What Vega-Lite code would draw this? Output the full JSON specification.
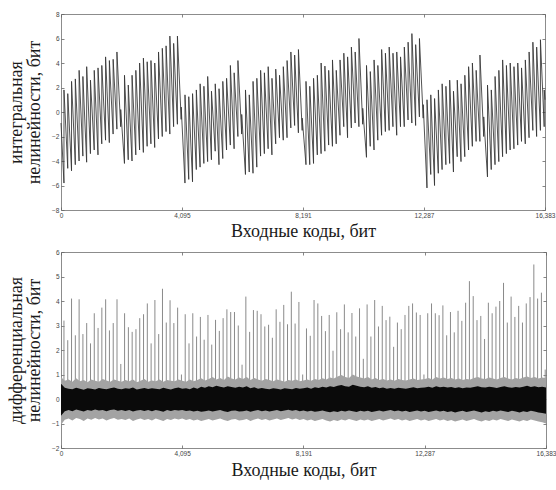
{
"$schema":"https://vega.github.io/schema/vega-lite/v6.json",
"padding":{"left":7,"top":10,"right":4,"bottom":4},
"background":"white",
"spacing":7,
"config":{
"view":{"stroke":"#8c8c8c","strokeWidth":1},
"axis":{"grid":false,"domain":false,"tickSize":-3,"tickColor":"#666","tickWidth":0.8,"labelFont":"Liberation Sans","labelFontSize":6.5,"labelColor":"#444","labelPadding":5,"titleFont":"Liberation Serif","titleFontSize":18,"titleFontWeight":"normal","titleColor":"#1a1a1a","titleLineHeight":18}
},
"datasets":{
"inl":[
{"code":0,"inl":-0.9},
{"code":100,"inl":-5.8},{"code":101,"inl":1.8},{"code":228,"inl":-4.6},{"code":229,"inl":1.5},{"code":356,"inl":-4.8},{"code":357,"inl":2.5},{"code":484,"inl":-4.3},{"code":485,"inl":2.7},{"code":612,"inl":-4.0},{"code":613,"inl":3.4},{"code":740,"inl":-3.6},{"code":741,"inl":2.9},{"code":868,"inl":-4.1},{"code":869,"inl":3.7},{"code":996,"inl":-3.4},{"code":997,"inl":2.6},{"code":1124,"inl":-3.1},{"code":1125,"inl":3.4},{"code":1252,"inl":-3.5},{"code":1253,"inl":3.6},{"code":1380,"inl":-2.6},{"code":1381,"inl":3.8},{"code":1508,"inl":-2.3},{"code":1509,"inl":4.5},{"code":1636,"inl":-2.5},{"code":1637,"inl":4.2},{"code":1764,"inl":-1.8},{"code":1765,"inl":4.3},{"code":1892,"inl":-1.4},{"code":1893,"inl":4.9},{"code":2020,"inl":-1.2},{"code":2021,"inl":0.2},
{"code":2148,"inl":-4.2},{"code":2149,"inl":3.0},{"code":2276,"inl":-3.9},{"code":2277,"inl":2.2},{"code":2404,"inl":-4.0},{"code":2405,"inl":3.0},{"code":2532,"inl":-3.5},{"code":2533,"inl":3.4},{"code":2660,"inl":-3.1},{"code":2661,"inl":4.0},{"code":2788,"inl":-3.3},{"code":2789,"inl":4.4},{"code":2916,"inl":-2.8},{"code":2917,"inl":4.1},{"code":3044,"inl":-2.6},{"code":3045,"inl":4.2},{"code":3172,"inl":-2.9},{"code":3173,"inl":4.0},{"code":3300,"inl":-2.2},{"code":3301,"inl":4.9},{"code":3428,"inl":-2.0},{"code":3429,"inl":5.2},{"code":3556,"inl":-1.6},{"code":3557,"inl":5.4},{"code":3684,"inl":-1.8},{"code":3685,"inl":6.2},{"code":3812,"inl":-1.2},{"code":3813,"inl":5.6},{"code":3940,"inl":-1.0},{"code":3941,"inl":6.2},{"code":4068,"inl":-0.6},{"code":4069,"inl":0.4},
{"code":4196,"inl":-5.8},{"code":4197,"inl":1.4},{"code":4324,"inl":-5.5},{"code":4325,"inl":1.25},{"code":4452,"inl":-5.7},{"code":4453,"inl":1.5},{"code":4580,"inl":-4.7},{"code":4581,"inl":1.8},{"code":4708,"inl":-4.5},{"code":4709,"inl":2.3},{"code":4836,"inl":-4.2},{"code":4837,"inl":2.1},{"code":4964,"inl":-4.05},{"code":4965,"inl":2.9},{"code":5092,"inl":-3.9},{"code":5093,"inl":1.7},{"code":5220,"inl":-3.2},{"code":5221,"inl":2.3},{"code":5348,"inl":-4.3},{"code":5349,"inl":1.9},{"code":5476,"inl":-3.8},{"code":5477,"inl":2.5},{"code":5604,"inl":-3.1},{"code":5605,"inl":2.75},{"code":5732,"inl":-2.7},{"code":5733,"inl":3.8},{"code":5860,"inl":-3.0},{"code":5861,"inl":3.2},{"code":5988,"inl":-2.0},{"code":5989,"inl":4.2},{"code":6116,"inl":-1.8},{"code":6117,"inl":-0.2},
{"code":6244,"inl":-5.1},{"code":6245,"inl":1.8},{"code":6372,"inl":-4.9},{"code":6373,"inl":1.4},{"code":6500,"inl":-5.0},{"code":6501,"inl":2.5},{"code":6628,"inl":-4.5},{"code":6629,"inl":2.75},{"code":6756,"inl":-3.6},{"code":6757,"inl":3.4},{"code":6884,"inl":-3.4},{"code":6885,"inl":3.2},{"code":7012,"inl":-3.0},{"code":7013,"inl":3.7},{"code":7140,"inl":-3.5},{"code":7141,"inl":2.75},{"code":7268,"inl":-2.6},{"code":7269,"inl":3.5},{"code":7396,"inl":-2.1},{"code":7397,"inl":3.0},{"code":7524,"inl":-2.3},{"code":7525,"inl":3.7},{"code":7652,"inl":-2.1},{"code":7653,"inl":4.2},{"code":7780,"inl":-1.3},{"code":7781,"inl":4.9},{"code":7908,"inl":-1.1},{"code":7909,"inl":4.65},{"code":8036,"inl":-1.7},{"code":8037,"inl":5.1},{"code":8164,"inl":-1.5},{"code":8165,"inl":-0.5},
{"code":8292,"inl":-4.3},{"code":8293,"inl":2.5},{"code":8420,"inl":-4.3},{"code":8421,"inl":2.1},{"code":8548,"inl":-4.2},{"code":8549,"inl":2.75},{"code":8676,"inl":-3.5},{"code":8677,"inl":3.0},{"code":8804,"inl":-3.4},{"code":8805,"inl":4.0},{"code":8932,"inl":-3.2},{"code":8933,"inl":3.75},{"code":9060,"inl":-2.7},{"code":9061,"inl":3.4},{"code":9188,"inl":-2.8},{"code":9189,"inl":4.25},{"code":9316,"inl":-2.6},{"code":9317,"inl":3.4},{"code":9444,"inl":-1.9},{"code":9445,"inl":4.25},{"code":9572,"inl":-1.2},{"code":9573,"inl":4.8},{"code":9700,"inl":-2.1},{"code":9701,"inl":4.5},{"code":9828,"inl":-1.3},{"code":9829,"inl":5.3},{"code":9956,"inl":-0.9},{"code":9957,"inl":4.9},{"code":10084,"inl":-1.2},{"code":10085,"inl":6.0},{"code":10212,"inl":-1.0},{"code":10213,"inl":0.3},
{"code":10340,"inl":-3.7},{"code":10341,"inl":3.8},{"code":10468,"inl":-2.8},{"code":10469,"inl":3.3},{"code":10596,"inl":-3.1},{"code":10597,"inl":4.25},{"code":10724,"inl":-2.3},{"code":10725,"inl":3.8},{"code":10852,"inl":-1.9},{"code":10853,"inl":5.1},{"code":10980,"inl":-1.6},{"code":10981,"inl":4.8},{"code":11108,"inl":-1.5},{"code":11109,"inl":5.3},{"code":11236,"inl":-1.2},{"code":11237,"inl":4.8},{"code":11364,"inl":-1.9},{"code":11365,"inl":4.9},{"code":11492,"inl":-1.2},{"code":11493,"inl":4.5},{"code":11620,"inl":-1.2},{"code":11621,"inl":5.3},{"code":11748,"inl":-0.65},{"code":11749,"inl":5.7},{"code":11876,"inl":-0.9},{"code":11877,"inl":6.4},{"code":12004,"inl":-1.1},{"code":12005,"inl":5.5},{"code":12132,"inl":-0.4},{"code":12133,"inl":6.0},{"code":12260,"inl":-0.5},{"code":12261,"inl":0.6},
{"code":12388,"inl":-6.2},{"code":12389,"inl":1.0},{"code":12516,"inl":-5.1},{"code":12517,"inl":1.4},{"code":12644,"inl":-6.0},{"code":12645,"inl":1.1},{"code":12772,"inl":-5.0},{"code":12773,"inl":1.8},{"code":12900,"inl":-4.7},{"code":12901,"inl":2.3},{"code":13028,"inl":-4.3},{"code":13029,"inl":2.1},{"code":13156,"inl":-4.2},{"code":13157,"inl":2.6},{"code":13284,"inl":-4.9},{"code":13285,"inl":1.7},{"code":13412,"inl":-3.65},{"code":13413,"inl":2.6},{"code":13540,"inl":-4.05},{"code":13541,"inl":2.3},{"code":13668,"inl":-3.65},{"code":13669,"inl":3.0},{"code":13796,"inl":-3.1},{"code":13797,"inl":3.7},{"code":13924,"inl":-2.8},{"code":13925,"inl":4.0},{"code":14052,"inl":-2.4},{"code":14053,"inl":3.4},{"code":14180,"inl":-2.4},{"code":14181,"inl":4.65},{"code":14308,"inl":-2.0},{"code":14309,"inl":-0.4},
{"code":14436,"inl":-5.3},{"code":14437,"inl":2.2},{"code":14564,"inl":-4.7},{"code":14565,"inl":1.8},{"code":14692,"inl":-4.3},{"code":14693,"inl":2.9},{"code":14820,"inl":-4.05},{"code":14821,"inl":3.4},{"code":14948,"inl":-3.65},{"code":14949,"inl":4.25},{"code":15076,"inl":-3.4},{"code":15077,"inl":3.8},{"code":15204,"inl":-3.1},{"code":15205,"inl":4.0},{"code":15332,"inl":-3.0},{"code":15333,"inl":3.7},{"code":15460,"inl":-2.7},{"code":15461,"inl":4.0},{"code":15588,"inl":-2.4},{"code":15589,"inl":3.6},{"code":15716,"inl":-2.6},{"code":15717,"inl":4.25},{"code":15844,"inl":-2.1},{"code":15845,"inl":4.9},{"code":15972,"inl":-1.5},{"code":15973,"inl":5.7},{"code":16100,"inl":-2.0},{"code":16101,"inl":5.3},{"code":16228,"inl":-1.5},{"code":16229,"inl":5.9},{"code":16356,"inl":-1.2},{"code":16357,"inl":1.8},
{"code":16383,"inl":1.0}
],
"spikes":[
{"code":100,"dnl":3.2},{"code":228,"dnl":2.4},{"code":356,"dnl":4.1},{"code":484,"dnl":2.6},{"code":612,"dnl":4.07},{"code":740,"dnl":2.65},{"code":868,"dnl":3.1},{"code":996,"dnl":2.27},{"code":1124,"dnl":3.5},{"code":1252,"dnl":2.9},{"code":1380,"dnl":3.73},{"code":1508,"dnl":4.07},{"code":1636,"dnl":2.8},{"code":1764,"dnl":3.1},{"code":1892,"dnl":4.07},{"code":2020,"dnl":1.43},
{"code":2148,"dnl":3.5},{"code":2276,"dnl":2.93},{"code":2404,"dnl":2.74},{"code":2532,"dnl":2.85},{"code":2660,"dnl":3.3},{"code":2788,"dnl":3.46},{"code":2916,"dnl":3.9},{"code":3044,"dnl":2.27},{"code":3172,"dnl":4.04},{"code":3300,"dnl":2.65},{"code":3428,"dnl":4.5},{"code":3556,"dnl":3.12},{"code":3684,"dnl":4.03},{"code":3812,"dnl":3.1},{"code":3940,"dnl":3.73},{"code":4068,"dnl":1.0},
{"code":4196,"dnl":3.46},{"code":4324,"dnl":2.27},{"code":4452,"dnl":3.5},{"code":4580,"dnl":2.55},{"code":4708,"dnl":3.35},{"code":4836,"dnl":2.42},{"code":4964,"dnl":3.43},{"code":5092,"dnl":2.22},{"code":5220,"dnl":3.23},{"code":5348,"dnl":2.78},{"code":5476,"dnl":3.3},{"code":5604,"dnl":3.66},{"code":5732,"dnl":3.55},{"code":5860,"dnl":3.55},{"code":5988,"dnl":3.0},{"code":6116,"dnl":1.4},
{"code":6244,"dnl":4.18},{"code":6372,"dnl":2.74},{"code":6500,"dnl":3.63},{"code":6628,"dnl":3.6},{"code":6756,"dnl":3.46},{"code":6884,"dnl":2.96},{"code":7012,"dnl":3.03},{"code":7140,"dnl":2.5},{"code":7268,"dnl":3.66},{"code":7396,"dnl":3.15},{"code":7524,"dnl":3.84},{"code":7652,"dnl":3.05},{"code":7780,"dnl":4.38},{"code":7908,"dnl":3.08},{"code":8036,"dnl":3.96},{"code":8164,"dnl":1.0},
{"code":8292,"dnl":2.88},{"code":8420,"dnl":2.58},{"code":8548,"dnl":4.04},{"code":8676,"dnl":3.9},{"code":8804,"dnl":3.39},{"code":8932,"dnl":2.77},{"code":9060,"dnl":3.43},{"code":9188,"dnl":1.97},{"code":9316,"dnl":3.54},{"code":9444,"dnl":2.85},{"code":9572,"dnl":3.86},{"code":9700,"dnl":2.72},{"code":9828,"dnl":3.51},{"code":9956,"dnl":2.55},{"code":10084,"dnl":3.7},{"code":10212,"dnl":1.64},
{"code":10340,"dnl":3.86},{"code":10468,"dnl":2.55},{"code":10596,"dnl":4.04},{"code":10724,"dnl":2.96},{"code":10852,"dnl":3.8},{"code":10980,"dnl":3.22},{"code":11108,"dnl":3.36},{"code":11236,"dnl":2.13},{"code":11364,"dnl":3.12},{"code":11492,"dnl":2.85},{"code":11620,"dnl":3.43},{"code":11748,"dnl":3.8},{"code":11876,"dnl":3.9},{"code":12004,"dnl":3.53},{"code":12132,"dnl":3.43},{"code":12260,"dnl":1.0},
{"code":12388,"dnl":3.5},{"code":12516,"dnl":3.9},{"code":12644,"dnl":3.5},{"code":12772,"dnl":3.42},{"code":12900,"dnl":3.82},{"code":13028,"dnl":2.6},{"code":13156,"dnl":3.55},{"code":13284,"dnl":2.72},{"code":13412,"dnl":3.6},{"code":13540,"dnl":3.19},{"code":13668,"dnl":3.93},{"code":13796,"dnl":4.81},{"code":13924,"dnl":4.2},{"code":14052,"dnl":3.22},{"code":14180,"dnl":3.39},{"code":14308,"dnl":2.45},
{"code":14436,"dnl":3.93},{"code":14564,"dnl":3.5},{"code":14692,"dnl":3.77},{"code":14820,"dnl":4.0},{"code":14948,"dnl":4.74},{"code":15076,"dnl":3.12},{"code":15204,"dnl":4.18},{"code":15332,"dnl":3.35},{"code":15460,"dnl":3.8},{"code":15588,"dnl":3.12},{"code":15716,"dnl":3.9},{"code":15844,"dnl":4.16},{"code":15972,"dnl":5.49},{"code":16100,"dnl":4.1},{"code":16228,"dnl":4.34},{"code":16356,"dnl":1.2}
],
"noise":[
{"code":0,"hi":0.9,"lo":-1.05,"chi":0.62,"clo":-0.68},{"code":128,"hi":0.75,"lo":-0.85,"chi":0.46,"clo":-0.5},{"code":256,"hi":0.8,"lo":-0.8,"chi":0.42,"clo":-0.45},{"code":384,"hi":0.7,"lo":-0.88,"chi":0.4,"clo":-0.5},{"code":512,"hi":0.85,"lo":-0.78,"chi":0.46,"clo":-0.43},{"code":640,"hi":0.72,"lo":-0.82,"chi":0.42,"clo":-0.47},{"code":768,"hi":0.78,"lo":-0.9,"chi":0.38,"clo":-0.51},{"code":896,"hi":0.68,"lo":-0.8,"chi":0.44,"clo":-0.45},{"code":1024,"hi":0.8,"lo":-0.85,"chi":0.42,"clo":-0.48},{"code":1152,"hi":0.74,"lo":-0.78,"chi":0.39,"clo":-0.43},{"code":1280,"hi":0.7,"lo":-0.84,"chi":0.45,"clo":-0.47},{"code":1408,"hi":0.82,"lo":-0.8,"chi":0.42,"clo":-0.45},{"code":1536,"hi":0.76,"lo":-0.88,"chi":0.4,"clo":-0.5},{"code":1664,"hi":0.7,"lo":-0.82,"chi":0.44,"clo":-0.45},{"code":1792,"hi":0.8,"lo":-0.78,"chi":0.47,"clo":-0.43},{"code":1920,"hi":0.75,"lo":-0.85,"chi":0.42,"clo":-0.48},
{"code":2048,"hi":0.7,"lo":-0.82,"chi":0.4,"clo":-0.45},{"code":2176,"hi":0.78,"lo":-0.86,"chi":0.44,"clo":-0.49},{"code":2304,"hi":0.72,"lo":-0.8,"chi":0.42,"clo":-0.45},{"code":2432,"hi":0.8,"lo":-0.9,"chi":0.47,"clo":-0.51},{"code":2560,"hi":0.68,"lo":-0.84,"chi":0.39,"clo":-0.47},{"code":2688,"hi":0.75,"lo":-0.8,"chi":0.42,"clo":-0.45},{"code":2816,"hi":0.82,"lo":-0.86,"chi":0.45,"clo":-0.49},{"code":2944,"hi":0.7,"lo":-0.82,"chi":0.41,"clo":-0.45},{"code":3072,"hi":0.76,"lo":-0.88,"chi":0.44,"clo":-0.5},{"code":3200,"hi":0.72,"lo":-0.8,"chi":0.42,"clo":-0.45},{"code":3328,"hi":0.8,"lo":-0.85,"chi":0.4,"clo":-0.48},{"code":3456,"hi":0.7,"lo":-0.9,"chi":0.46,"clo":-0.52},{"code":3584,"hi":0.78,"lo":-0.82,"chi":0.42,"clo":-0.45},{"code":3712,"hi":0.74,"lo":-0.86,"chi":0.39,"clo":-0.49},{"code":3840,"hi":0.72,"lo":-0.8,"chi":0.44,"clo":-0.45},{"code":3968,"hi":0.8,"lo":-0.84,"chi":0.47,"clo":-0.47},
{"code":4096,"hi":0.75,"lo":-0.8,"chi":0.42,"clo":-0.45},{"code":4224,"hi":0.7,"lo":-0.86,"chi":0.44,"clo":-0.49},{"code":4352,"hi":0.8,"lo":-0.82,"chi":0.4,"clo":-0.47},{"code":4480,"hi":0.72,"lo":-0.88,"chi":0.47,"clo":-0.51},{"code":4608,"hi":0.78,"lo":-0.84,"chi":0.42,"clo":-0.48},{"code":4736,"hi":0.85,"lo":-0.9,"chi":0.5,"clo":-0.52},{"code":4864,"hi":0.76,"lo":-0.86,"chi":0.46,"clo":-0.5},{"code":4992,"hi":0.82,"lo":-0.82,"chi":0.52,"clo":-0.47},{"code":5120,"hi":0.9,"lo":-0.88,"chi":0.48,"clo":-0.51},{"code":5248,"hi":0.8,"lo":-0.84,"chi":0.54,"clo":-0.48},{"code":5376,"hi":0.86,"lo":-0.8,"chi":0.5,"clo":-0.45},{"code":5504,"hi":0.78,"lo":-0.86,"chi":0.47,"clo":-0.5},{"code":5632,"hi":0.92,"lo":-0.9,"chi":0.52,"clo":-0.53},{"code":5760,"hi":0.84,"lo":-0.84,"chi":0.49,"clo":-0.48},{"code":5888,"hi":0.8,"lo":-0.82,"chi":0.46,"clo":-0.47},{"code":6016,"hi":0.88,"lo":-0.88,"chi":0.5,"clo":-0.51},
{"code":6144,"hi":0.82,"lo":-0.86,"chi":0.47,"clo":-0.5},{"code":6272,"hi":0.9,"lo":-0.82,"chi":0.52,"clo":-0.47},{"code":6400,"hi":0.78,"lo":-0.9,"chi":0.44,"clo":-0.52},{"code":6528,"hi":0.86,"lo":-0.84,"chi":0.48,"clo":-0.48},{"code":6656,"hi":0.8,"lo":-0.8,"chi":0.42,"clo":-0.45},{"code":6784,"hi":0.75,"lo":-0.86,"chi":0.45,"clo":-0.5},{"code":6912,"hi":0.82,"lo":-0.82,"chi":0.42,"clo":-0.47},{"code":7040,"hi":0.78,"lo":-0.88,"chi":0.4,"clo":-0.51},{"code":7168,"hi":0.72,"lo":-0.84,"chi":0.44,"clo":-0.48},{"code":7296,"hi":0.8,"lo":-0.8,"chi":0.42,"clo":-0.45},{"code":7424,"hi":0.76,"lo":-0.86,"chi":0.39,"clo":-0.5},{"code":7552,"hi":0.7,"lo":-0.82,"chi":0.44,"clo":-0.47},{"code":7680,"hi":0.78,"lo":-0.78,"chi":0.42,"clo":-0.44},{"code":7808,"hi":0.74,"lo":-0.84,"chi":0.4,"clo":-0.48},{"code":7936,"hi":0.8,"lo":-0.8,"chi":0.45,"clo":-0.45},{"code":8064,"hi":0.72,"lo":-0.86,"chi":0.42,"clo":-0.5},
{"code":8192,"hi":0.76,"lo":-0.82,"chi":0.44,"clo":-0.47},{"code":8320,"hi":0.8,"lo":-0.88,"chi":0.47,"clo":-0.51},{"code":8448,"hi":0.74,"lo":-0.84,"chi":0.42,"clo":-0.48},{"code":8576,"hi":0.82,"lo":-0.9,"chi":0.48,"clo":-0.52},{"code":8704,"hi":0.78,"lo":-0.86,"chi":0.45,"clo":-0.5},{"code":8832,"hi":0.85,"lo":-0.82,"chi":0.5,"clo":-0.47},{"code":8960,"hi":0.8,"lo":-0.88,"chi":0.47,"clo":-0.51},{"code":9088,"hi":0.88,"lo":-0.92,"chi":0.52,"clo":-0.54},{"code":9216,"hi":0.84,"lo":-0.86,"chi":0.49,"clo":-0.5},{"code":9344,"hi":0.92,"lo":-0.9,"chi":0.54,"clo":-0.53},{"code":9472,"hi":0.98,"lo":-0.84,"chi":0.57,"clo":-0.48},{"code":9600,"hi":0.9,"lo":-0.88,"chi":0.52,"clo":-0.51},{"code":9728,"hi":0.86,"lo":-0.82,"chi":0.5,"clo":-0.47},{"code":9856,"hi":1.0,"lo":-0.86,"chi":0.58,"clo":-0.5},{"code":9984,"hi":0.92,"lo":-0.9,"chi":0.54,"clo":-0.53},{"code":10112,"hi":0.88,"lo":-0.84,"chi":0.5,"clo":-0.48},
{"code":10240,"hi":0.84,"lo":-0.88,"chi":0.48,"clo":-0.51},{"code":10368,"hi":0.9,"lo":-0.84,"chi":0.52,"clo":-0.48},{"code":10496,"hi":0.8,"lo":-0.9,"chi":0.46,"clo":-0.53},{"code":10624,"hi":0.86,"lo":-0.86,"chi":0.49,"clo":-0.5},{"code":10752,"hi":0.78,"lo":-0.82,"chi":0.44,"clo":-0.47},{"code":10880,"hi":0.82,"lo":-0.88,"chi":0.47,"clo":-0.51},{"code":11008,"hi":0.76,"lo":-0.84,"chi":0.42,"clo":-0.48},{"code":11136,"hi":0.8,"lo":-0.8,"chi":0.45,"clo":-0.45},{"code":11264,"hi":0.74,"lo":-0.86,"chi":0.42,"clo":-0.5},{"code":11392,"hi":0.82,"lo":-0.82,"chi":0.46,"clo":-0.47},{"code":11520,"hi":0.78,"lo":-0.88,"chi":0.44,"clo":-0.51},{"code":11648,"hi":0.76,"lo":-0.84,"chi":0.42,"clo":-0.48},{"code":11776,"hi":0.8,"lo":-0.9,"chi":0.45,"clo":-0.53},{"code":11904,"hi":0.84,"lo":-0.86,"chi":0.48,"clo":-0.5},{"code":12032,"hi":0.78,"lo":-0.82,"chi":0.44,"clo":-0.47},{"code":12160,"hi":0.8,"lo":-0.88,"chi":0.46,"clo":-0.51},
{"code":12288,"hi":0.82,"lo":-0.84,"chi":0.47,"clo":-0.48},{"code":12416,"hi":0.86,"lo":-0.9,"chi":0.5,"clo":-0.53},{"code":12544,"hi":0.8,"lo":-0.86,"chi":0.46,"clo":-0.5},{"code":12672,"hi":0.9,"lo":-0.82,"chi":0.52,"clo":-0.47},{"code":12800,"hi":0.84,"lo":-0.88,"chi":0.48,"clo":-0.51},{"code":12928,"hi":0.88,"lo":-0.84,"chi":0.5,"clo":-0.48},{"code":13056,"hi":0.82,"lo":-0.9,"chi":0.47,"clo":-0.53},{"code":13184,"hi":0.86,"lo":-0.86,"chi":0.49,"clo":-0.5},{"code":13312,"hi":0.8,"lo":-0.92,"chi":0.45,"clo":-0.55},{"code":13440,"hi":0.84,"lo":-0.88,"chi":0.48,"clo":-0.51},{"code":13568,"hi":0.78,"lo":-0.84,"chi":0.44,"clo":-0.48},{"code":13696,"hi":0.82,"lo":-0.9,"chi":0.47,"clo":-0.53},{"code":13824,"hi":0.8,"lo":-0.86,"chi":0.46,"clo":-0.5},{"code":13952,"hi":0.86,"lo":-0.82,"chi":0.49,"clo":-0.47},{"code":14080,"hi":0.9,"lo":-0.88,"chi":0.52,"clo":-0.51},{"code":14208,"hi":0.84,"lo":-0.92,"chi":0.48,"clo":-0.55},
{"code":14336,"hi":0.82,"lo":-0.86,"chi":0.47,"clo":-0.5},{"code":14464,"hi":0.88,"lo":-0.9,"chi":0.5,"clo":-0.53},{"code":14592,"hi":0.84,"lo":-0.84,"chi":0.48,"clo":-0.48},{"code":14720,"hi":0.8,"lo":-0.88,"chi":0.45,"clo":-0.51},{"code":14848,"hi":0.86,"lo":-0.82,"chi":0.49,"clo":-0.47},{"code":14976,"hi":0.9,"lo":-0.86,"chi":0.52,"clo":-0.5},{"code":15104,"hi":0.84,"lo":-0.9,"chi":0.48,"clo":-0.53},{"code":15232,"hi":0.8,"lo":-0.84,"chi":0.46,"clo":-0.48},{"code":15360,"hi":0.86,"lo":-0.88,"chi":0.49,"clo":-0.51},{"code":15488,"hi":0.82,"lo":-0.92,"chi":0.47,"clo":-0.55},{"code":15616,"hi":0.88,"lo":-0.86,"chi":0.5,"clo":-0.5},{"code":15744,"hi":0.92,"lo":-0.9,"chi":0.54,"clo":-0.53},{"code":15872,"hi":0.86,"lo":-0.84,"chi":0.49,"clo":-0.48},{"code":16000,"hi":0.9,"lo":-0.88,"chi":0.52,"clo":-0.51},{"code":16128,"hi":0.84,"lo":-0.92,"chi":0.48,"clo":-0.55},{"code":16256,"hi":0.88,"lo":-0.95,"chi":0.5,"clo":-0.57},
{"code":16383,"hi":0.85,"lo":-1.0,"chi":0.47,"clo":-0.6}
]
},
"vconcat":[
{
"width":484,"height":196,
"layer":[
{"data":{"name":"inl"},"mark":{"type":"line","color":"#333333","strokeWidth":0.85},
"encoding":{
"x":{"field":"code","type":"quantitative","scale":{"domain":[0,16383],"nice":false,"zero":false},"axis":{"values":[0,4095,8191,12287,16383],"labelExpr":"format(datum.value, ',')","title":"Входные коды, бит","titlePadding":4,"labelFlush":false}},
"y":{"field":"inl","type":"quantitative","scale":{"domain":[-8,8],"nice":false,"zero":false},"axis":{"values":[-8,-6,-4,-2,0,2,4,6,8],"title":["интегральная","нелинейности, бит"],"titlePadding":8}}
}},
{"data":{"name":"inl"},"mark":{"type":"point","opacity":0,"size":1},
"encoding":{
"x":{"field":"code","type":"quantitative","scale":{"domain":[0,16383],"nice":false,"zero":false},"axis":{"orient":"top","values":[0,4095,8191,12287,16383],"labels":false,"title":null}},
"y":{"field":"inl","type":"quantitative","scale":{"domain":[-8,8],"nice":false,"zero":false},"axis":{"orient":"right","values":[-8,-6,-4,-2,0,2,4,6,8],"labels":false,"title":null}}
}}
],
"resolve":{"axis":{"x":"independent","y":"independent"}}
},
{
"width":485,"height":196,
"layer":[
{"data":{"name":"spikes"},"mark":{"type":"rule","color":"#8a8a8a","strokeWidth":1},
"encoding":{
"x":{"field":"code","type":"quantitative","scale":{"domain":[0,16383],"nice":false,"zero":false},"axis":{"values":[0,4095,8191,12287,16383],"labelExpr":"format(datum.value, ',')","title":"Входные коды, бит","titlePadding":5,"labelFlush":false}},
"y":{"field":"dnl","type":"quantitative","scale":{"domain":[-2,6],"nice":false,"zero":false},"axis":{"values":[-2,-1,0,1,2,3,4,5,6],"title":["дифференциальная","нелинейности, бит"],"titlePadding":8}},
"y2":{"datum":0}
}},
{"data":{"name":"noise"},"mark":{"type":"area","color":"#a3a3a3","opacity":1},
"encoding":{
"x":{"field":"code","type":"quantitative","scale":{"domain":[0,16383],"nice":false,"zero":false},"axis":{"orient":"top","values":[0,4095,8191,12287,16383],"labels":false,"title":null}},
"y":{"field":"hi","type":"quantitative","scale":{"domain":[-2,6],"nice":false,"zero":false},"axis":{"orient":"right","values":[-2,-1,0,1,2,3,4,5,6],"labels":false,"title":null}},
"y2":{"field":"lo"}
}},
{"data":{"name":"noise"},"mark":{"type":"area","color":"#0a0a0a","opacity":1},
"encoding":{
"x":{"field":"code","type":"quantitative","scale":{"domain":[0,16383],"nice":false,"zero":false},"axis":null},
"y":{"field":"chi","type":"quantitative","scale":{"domain":[-2,6],"nice":false,"zero":false},"axis":null},
"y2":{"field":"clo"}
}}
],
"resolve":{"axis":{"x":"independent","y":"independent"}}
}
]
}
